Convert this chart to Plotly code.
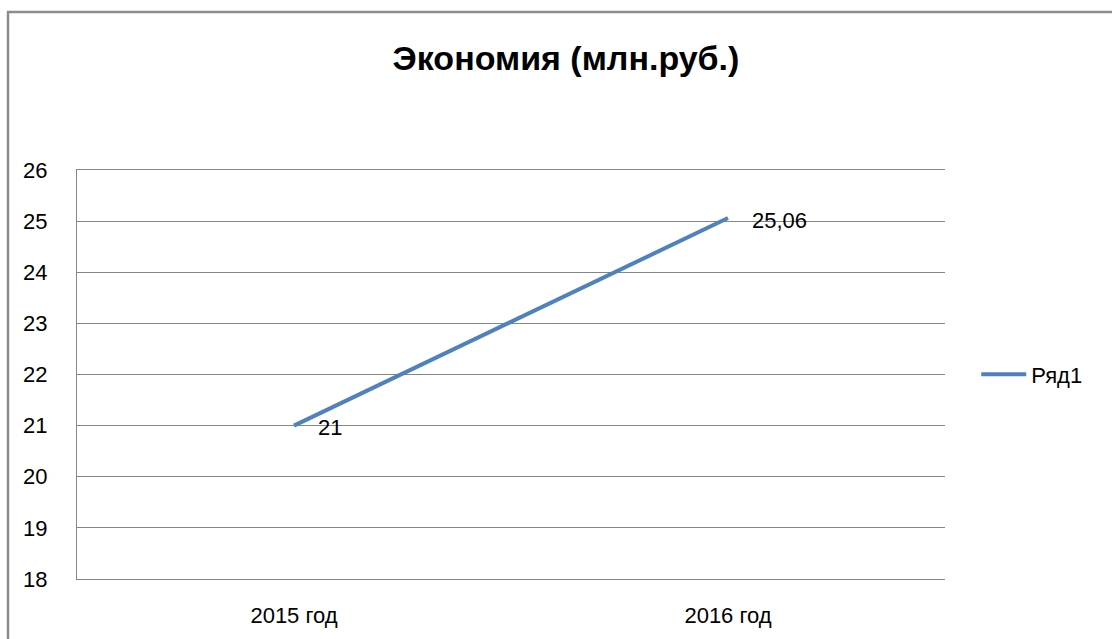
import plotly.graph_objects as go

categories = ["2015 год", "2016 год"]
values = [21, 25.06]
value_labels = ["21", "25,06"]
series_name = "Ряд1"
y_ticks = [18, 19, 20, 21, 22, 23, 24, 25, 26]

W, H = 1112, 639
FONT = "Liberation Sans"
LINE_COLOR = "#4F81BD"
GRID = "#868686"

fig = go.Figure()
fig.add_trace(go.Scatter(
    x=categories, y=values, mode="lines", name=series_name,
    line=dict(color=LINE_COLOR, width=4),
))

for c, v, t in zip(categories, values, value_labels):
    fig.add_annotation(x=c, y=v, text=t, showarrow=False, xanchor="left",
                       yanchor="middle", xshift=22, yshift=-2,
                       font=dict(family=FONT, size=22, color="#000000"))

fig.update_layout(
    width=W, height=H,
    paper_bgcolor="white", plot_bgcolor="white",
    margin=dict(l=77, r=167, t=170, b=60),
    title=dict(text="<b>Экономия (млн.руб.)</b>", x=566 / W, xanchor="center",
               y=1 - 58 / H, yanchor="middle", xref="container", yref="container",
               font=dict(family=FONT, size=34, color="#000000")),
    showlegend=True,
    legend=dict(x=1.036, xanchor="left", y=0.5, yanchor="middle",
                itemwidth=45,
                font=dict(family=FONT, size=22, color="#000000"),
                bgcolor="rgba(0,0,0,0)"),
    font=dict(family=FONT, size=22, color="#000000"),
    shapes=[dict(type="rect", xref="paper", yref="paper",
                 x0=-69 / 868, x1=1.5, y0=-0.5, y1=1 + 158 / 409,
                 line=dict(color="#8C8C8C", width=2.5), layer="below")],
)

fig.update_xaxes(range=[-0.5, 1.5], showgrid=False, showline=True, mirror=True,
                 linecolor=GRID, linewidth=1, ticks="",
                 tickfont=dict(family=FONT, size=22), ticklabelstandoff=17,
                 zeroline=False)
fig.update_yaxes(range=[18, 26], tickvals=y_ticks, showgrid=True, gridcolor=GRID,
                 gridwidth=1, showline=True, linecolor=GRID, linewidth=1,
                 ticks="", ticklabelstandoff=24, zeroline=False,
                 tickfont=dict(family=FONT, size=22))

fig.write_html("out.html", config={"displayModeBar": False},
               post_script="document.body.style.margin='0';document.body.style.overflow='hidden';")
